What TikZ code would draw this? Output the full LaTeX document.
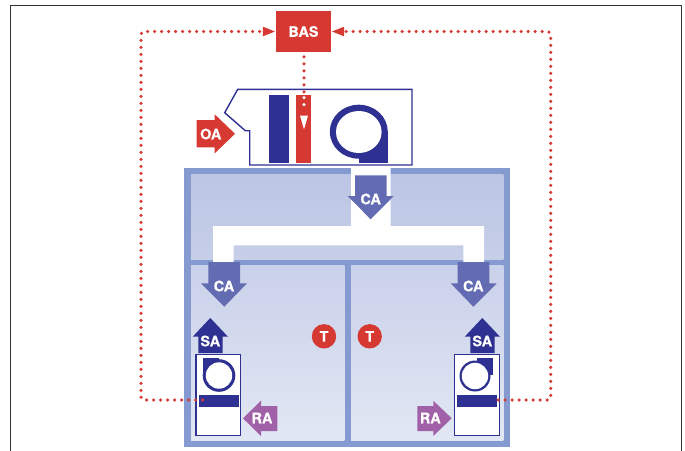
\documentclass[tikz,border=0pt]{standalone}
\usepackage{fontspec}
\setsansfont[BoldFeatures={FakeBold=0.6}]{TeX Gyre Heros}
\usetikzlibrary{arrows.meta}
\definecolor{navy}{HTML}{2E3192}
\definecolor{sigred}{HTML}{D63832}
\definecolor{wallblue}{HTML}{859AD0}
\definecolor{caflow}{HTML}{636CB3}
\definecolor{raflow}{HTML}{A061A8}
\definecolor{framegrey}{HTML}{333333}
\definecolor{upperA}{HTML}{BCC6E4}
\definecolor{upperB}{HTML}{C6CEE8}
\definecolor{lowerA}{HTML}{CAD1EA}
\definecolor{lowerB}{HTML}{E1E7F3}
\tikzset{
  lab/.style={text=white,font=\sffamily\bfseries\fontsize{14.4}{14.4}\selectfont,inner sep=0pt},
  linkdots/.style={sigred,line width=3.5pt,line cap=round,dash pattern=on 0pt off 7pt},
  linktip/.style={-{Triangle[length=13pt,width=8.5pt,sharp]}},
  unitline/.style={draw=navy,line width=1.4pt,fill=white,line join=miter}
}
\begin{document}
\begin{tikzpicture}[x=1pt,y=-1pt]
\useasboundingbox (0,0) rectangle (685,450);
\clip (0,0) rectangle (685,450);
% frame
\draw[framegrey,line width=1.4pt] (10.5,460) -- (10.5,5.7) -- (681.3,5.7) -- (681.3,460);
% building
\fill[wallblue] (184.3,167.5) rectangle (510,446.7);
\shade[top color=upperA,bottom color=upperB] (191,174.3) rectangle (503.3,259);
\shade[top color=lowerA,bottom color=lowerB] (191,265.7) rectangle (344.3,440);
\shade[top color=lowerA,bottom color=lowerB] (351,265.7) rectangle (503.3,440);
% duct
\fill[white] (351,167.5) -- (390.7,167.5) -- (390.7,226) -- (484,226) -- (484,262.5) -- (463.3,262.5)
  -- (463.3,245.3) -- (233.7,245.3) -- (233.7,262.5) -- (213,262.5) -- (213,226) -- (351,226) -- cycle;
% CA arrows
\fill[caflow] (355,175.3) -- (386.7,175.3) -- (386.7,196) -- (393.7,196) -- (370.7,219.3) -- (347.7,196) -- (355,196) -- cycle;
\fill[caflow] (208.3,262) -- (240,262) -- (240,283.3) -- (247,283.3) -- (224.3,306.7) -- (201,283.3) -- (208.3,283.3) -- cycle;
\fill[caflow] (457.7,262) -- (489.3,262) -- (489.3,283.3) -- (496.7,283.3) -- (473.3,306.7) -- (450.7,283.3) -- (457.7,283.3) -- cycle;
\node[lab] (catop) at (370.7,199) {CA};
\node[lab] (caleft) at (224,286) {CA};
\node[lab] (caright) at (473.3,286) {CA};
% SA arrows
\fill[navy] (198.3,353) -- (198.3,336.7) -- (192.7,336.7) -- (210.3,318) -- (228,336.7) -- (222.7,336.7) -- (222.7,353) -- cycle;
\fill[navy] (470.3,353) -- (470.3,336.7) -- (464.7,336.7) -- (482.3,318) -- (500,336.7) -- (494.7,336.7) -- (494.7,353) -- cycle;
\node[lab] (saleft) at (210.3,341) {SA};
\node[lab] (saright) at (482.3,341) {SA};
% RA arrows
\fill[raflow] (243,418.3) -- (261,400.7) -- (261,406) -- (277.3,406) -- (277.3,431) -- (261,431) -- (261,436) -- cycle;
\fill[raflow] (451.7,418.3) -- (433.3,400.7) -- (433.3,406) -- (417.3,406) -- (417.3,431) -- (433.3,431) -- (433.3,436) -- cycle;
\node[lab] (raleft) at (262,418) {RA};
\node[lab] (raright) at (430.3,418) {RA};
% thermostats
\fill[sigred] (324,336.3) circle[radius=12.2pt];
\fill[sigred] (369.7,336.3) circle[radius=12.2pt];
\node[lab] (tleft) at (324,336.3) {T};
\node[lab] (tright) at (369.7,336.3) {T};
% terminal units
\draw[unitline] (196,354.3) rectangle (240.7,435.7);
\draw[unitline] (454.3,354.3) rectangle (499.3,435.7);
\fill[navy] (199,395) rectangle (239,406.7);
\fill[navy] (457,395) rectangle (497,406.7);
\fill[navy] (202.7,357.7) rectangle (219,375);
\fill[navy] (219,375.5) circle[radius=16.3pt];
\fill[white] (219,375.5) circle[radius=13.2pt];
\fill[navy] (476.5,357.7) rectangle (493.3,375);
\fill[navy] (475,376) circle[radius=15.5pt];
\fill[white] (475,376) circle[radius=13.2pt];
% air handling unit
\draw[unitline] (237.7,89.3) -- (412,89.3) -- (412,165) -- (249.7,165) -- (249.7,130.7) -- (245.3,130.7) -- (224.7,112.7) -- cycle;
\fill[navy] (269,95) rectangle (289,163);
\fill[sigred] (296,95) rectangle (311,163);
\fill[white] (300,115.7) -- (308,115.7) -- (304,129.3) -- cycle;
\fill[navy] (358.8,131.7) circle[x radius=29pt,y radius=27pt];
\fill[navy] (359,132) rectangle (387.8,163);
\fill[white] (358.8,132) circle[x radius=22.8pt,y radius=21pt];
% OA
\fill[sigred] (196.7,120) -- (214.7,120) -- (214.7,114.3) -- (235,133.8) -- (214.7,153.3) -- (214.7,147.3) -- (196.7,147.3) -- cycle;
\node[lab] (oa) at (210.7,134) {OA};
% BAS
\node[fill=sigred,minimum width=55pt,minimum height=41pt,inner sep=0pt,text=white,font=\sffamily\bfseries\fontsize{14.4}{14.4}\selectfont] (bas) at (303.5,31.5) {BAS};
% control links
\coordinate (lsens) at (202.7,400);
\coordinate (lcorner) at (141,400);
\coordinate (ltop) at (141,31.5);
\coordinate (rsens) at (498,400);
\coordinate (rcorner) at (550.7,400);
\coordinate (rtop) at (550.7,31.5);
\coordinate (bartop) at (304,92.5);
\coordinate (dotA) at (304,97.7);
\coordinate (dotB) at (304,105);
\draw[linkdots,linktip,rounded corners=3pt] (lsens) -- (lcorner) -- (ltop) -- (bas.west);
\draw[linkdots,linktip,rounded corners=3pt] (rsens) -- (rcorner) -- (rtop) -- (bas.east);
\draw[linkdots,shorten <=4.7pt] (bas.south -| bartop) -- (bartop);
\draw[linkdots,white] (dotA) -- (dotB);
\end{tikzpicture}
\end{document}
